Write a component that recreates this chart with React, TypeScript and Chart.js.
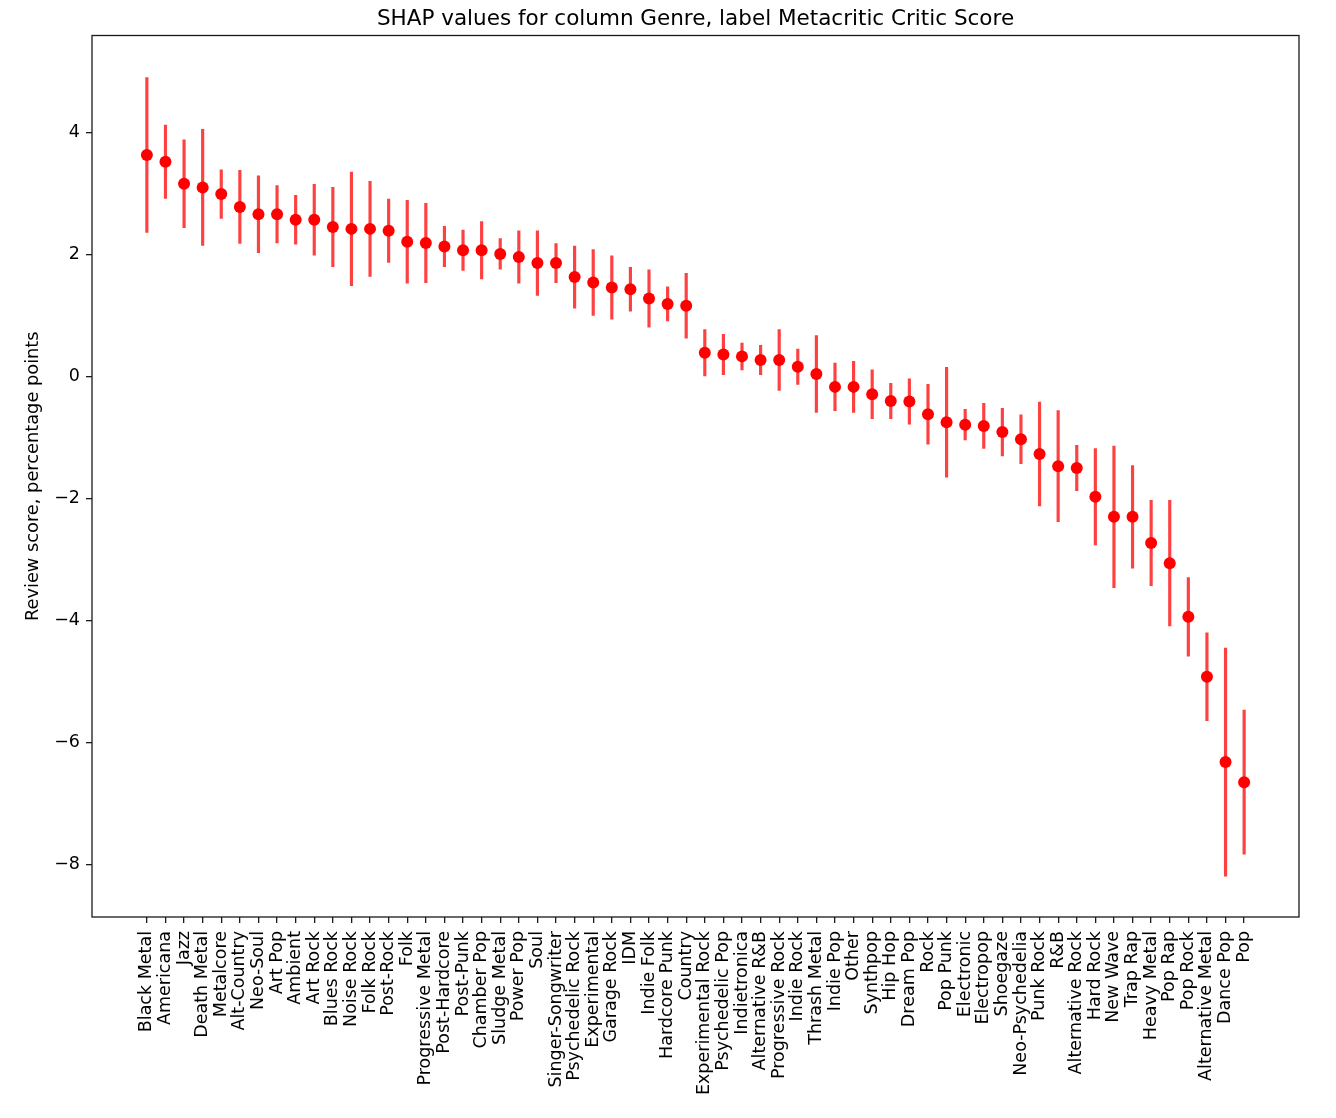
import React, { useEffect, useRef } from "react";
import { Chart, registerables } from "chart.js";

Chart.register(...registerables);

const TITLE = "SHAP values for column Genre, label Metacritic Critic Score";
const Y_LABEL = "Review score, percentage points";

const genres = [
  "Black Metal", "Americana", "Jazz", "Death Metal", "Metalcore", "Alt-Country",
  "Neo-Soul", "Art Pop", "Ambient", "Art Rock", "Blues Rock", "Noise Rock",
  "Folk Rock", "Post-Rock", "Folk", "Progressive Metal", "Post-Hardcore", "Post-Punk",
  "Chamber Pop", "Sludge Metal", "Power Pop", "Soul", "Singer-Songwriter", "Psychedelic Rock",
  "Experimental", "Garage Rock", "IDM", "Indie Folk", "Hardcore Punk", "Country",
  "Experimental Rock", "Psychedelic Pop", "Indietronica", "Alternative R&B", "Progressive Rock", "Indie Rock",
  "Thrash Metal", "Indie Pop", "Other", "Synthpop", "Hip Hop", "Dream Pop",
  "Rock", "Pop Punk", "Electronic", "Electropop", "Shoegaze", "Neo-Psychedelia",
  "Punk Rock", "R&B", "Alternative Rock", "Hard Rock", "New Wave", "Trap Rap",
  "Heavy Metal", "Pop Rap", "Pop Rock", "Alternative Metal", "Dance Pop", "Pop",
];

const shapMean = [
  3.63, 3.52, 3.16, 3.10, 2.99, 2.78,
  2.66, 2.66, 2.57, 2.57, 2.45, 2.42,
  2.42, 2.39, 2.21, 2.19, 2.13, 2.07,
  2.07, 2.01, 1.96, 1.86, 1.86, 1.63,
  1.54, 1.46, 1.43, 1.28, 1.19, 1.16,
  0.39, 0.36, 0.33, 0.27, 0.27, 0.16,
  0.04, -0.17, -0.17, -0.29, -0.40, -0.41,
  -0.62, -0.75, -0.79, -0.81, -0.91, -1.03,
  -1.27, -1.47, -1.50, -1.97, -2.30, -2.30,
  -2.73, -3.06, -3.94, -4.92, -6.32, -6.65,
];

const shapErr = [
  1.27, 0.60, 0.72, 0.95, 0.40, 0.60,
  0.63, 0.47, 0.40, 0.58, 0.65, 0.93,
  0.78, 0.52, 0.68, 0.65, 0.33, 0.33,
  0.47, 0.25, 0.43, 0.53, 0.32, 0.51,
  0.54, 0.52, 0.36, 0.47, 0.28, 0.53,
  0.38, 0.33, 0.22, 0.24, 0.50, 0.29,
  0.63, 0.39, 0.42, 0.40, 0.29, 0.37,
  0.49, 0.90, 0.25, 0.37, 0.39, 0.40,
  0.85, 0.91, 0.37, 0.79, 1.16, 0.84,
  0.70, 1.03, 0.645, 0.72, 1.87, 1.18,
];

const yTicks = [4, 2, 0, -2, -4, -6, -8];

const FONT = "'DejaVu Sans', sans-serif";
const INK = "#000000";

const framePlugin = {
  id: "frame",
  beforeDatasetsDraw(chart: any) {
    const { ctx, chartArea: a } = chart;
    ctx.save();
    ctx.strokeStyle = "#1a1a1a";
    ctx.lineWidth = 1.3;
    ctx.strokeRect(a.left, a.top, a.right - a.left, a.bottom - a.top);
    ctx.restore();
  },
};

export default function App() {
  const canvasRef = useRef<HTMLCanvasElement | null>(null);

  useEffect(() => {
    if (!canvasRef.current) return;
    const n = genres.length;
    const pad = 0.05 * (n - 1);
    const chart = new Chart(canvasRef.current, {
      type: "bar",
      data: {
        datasets: [
          {
            type: "scatter",
            data: genres.map((_, i) => ({ x: i, y: shapMean[i] })),
            pointRadius: 6,
            pointBackgroundColor: "#ff0000",
            pointBorderWidth: 0,
            pointBorderColor: "#ff0000",
            order: 0,
          } as any,
          {
            type: "bar",
            data: genres.map((_, i) => ({
              x: i,
              y: [shapMean[i] - shapErr[i], shapMean[i] + shapErr[i]],
            })),
            backgroundColor: "rgba(255,0,0,0.75)",
            borderWidth: 0,
            barThickness: 2.5,
            grouped: false,
            order: 1,
          } as any,
        ],
      },
      options: {
        responsive: true,
        maintainAspectRatio: false,
        animation: false,
        events: [],
        layout: { padding: { left: 0, right: 37, top: 0, bottom: 0 } },
        plugins: {
          legend: { display: false },
          tooltip: { enabled: false },
          title: {
            display: true,
            text: TITLE,
            fullSize: false,
            color: INK,
            font: { family: FONT, size: 21.5, weight: "normal" },
            padding: { top: 6.5, bottom: 3.2 },
          } as any,
        },
        scales: {
          x: {
            type: "linear",
            offset: false,
            min: -pad,
            max: n - 1 + pad,
            afterBuildTicks: (s: any) => {
              s.ticks = genres.map((_, i) => ({ value: i }));
            },
            afterFit: (s: any) => {
              s.height = 201;
            },
            ticks: {
              autoSkip: false,
              minRotation: 90,
              maxRotation: 90,
              padding: 8,
              color: INK,
              font: { family: FONT, size: 17.5 },
              callback: (v: any) => genres[Math.round(Number(v))] ?? "",
            },
            grid: {
              offset: false,
              drawOnChartArea: false,
              drawTicks: true,
              tickLength: 6,
              color: "#1a1a1a",
              lineWidth: 1.3,
            },
            border: { display: false },
          } as any,
          y: {
            type: "linear",
            min: -8.86,
            max: 5.59,
            afterBuildTicks: (s: any) => {
              s.ticks = yTicks.map((v) => ({ value: v }));
            },
            afterFit: (s: any) => {
              s.width = 92;
            },
            ticks: {
              padding: 6,
              color: INK,
              font: { family: FONT, size: 17.5 },
              callback: (v: any) => String(v).replace("-", "\u2212"),
            },
            grid: {
              drawOnChartArea: false,
              drawTicks: true,
              tickLength: 6,
              color: "#1a1a1a",
              lineWidth: 1.3,
            },
            border: { display: false },
            title: {
              display: true,
              text: Y_LABEL,
              color: INK,
              font: { family: FONT, size: 17.8 },
              padding: { top: 22.5, bottom: 0 },
            },
          } as any,
        },
      },
      plugins: [framePlugin],
    });
    return () => chart.destroy();
  }, []);

  return (
    <div
      style={{
        position: "absolute",
        left: 0,
        top: 0,
        width: 1336,
        height: 1118,
        background: "#ffffff",
      }}
    >
      <canvas ref={canvasRef} />
    </div>
  );
}
